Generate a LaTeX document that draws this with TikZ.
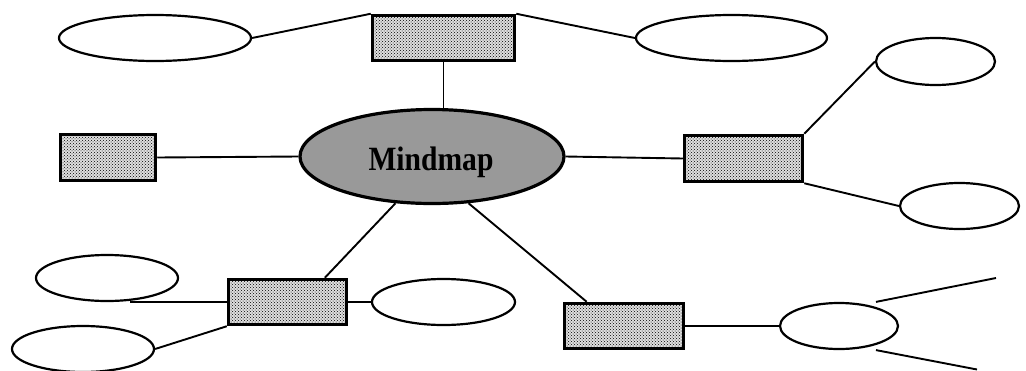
\documentclass[tikz,border=0pt]{standalone}
\usepackage{fontspec}
\setmainfont{Liberation Serif}
\usetikzlibrary{patterns,shapes.geometric}
\definecolor{centregray}{RGB}{153,153,153}
\tikzset{
  dotbox/.style={draw=black, line width=3.5pt, rectangle, inner sep=0pt,
    preaction={fill=gray!25}, pattern=crosshatch dots, pattern color=black},
  leaf/.style={draw=black, line width=2.2pt, ellipse, inner sep=0pt, fill=white},
  centre/.style={draw=black, line width=3.2pt, ellipse, inner sep=0pt, fill=centregray},
  link/.style={draw=black, line width=1.9pt},
}
\begin{document}
\begin{tikzpicture}[x=1pt,y=-1pt]
\useasboundingbox (0,0) rectangle (1026,370);
\fill[white] (0,0) rectangle (1026,370);

% central node
\node[centre, minimum width=264pt, minimum height=94pt] (c) at (432,156.5) {};
\node[anchor=base, font=\fontsize{34}{40}\selectfont\bfseries, inner sep=0pt] (ct) at (431,170) {\scalebox{0.87}[1]{Mindmap}};

% rectangles
\node[dotbox, minimum width=142pt, minimum height=45pt] (top) at (443.5,38) {};
\node[dotbox, minimum width=95pt, minimum height=46pt] (left) at (108,157.5) {};
\node[dotbox, minimum width=118pt, minimum height=46pt] (right) at (743.5,158.5) {};
\node[dotbox, minimum width=118pt, minimum height=45pt] (bl) at (287.5,302) {};
\node[dotbox, minimum width=119pt, minimum height=45pt] (br) at (624,326) {};

% leaf ellipses
\node[leaf, minimum width=192pt, minimum height=46pt] (tl) at (155,38) {};
\node[leaf, minimum width=191pt, minimum height=46pt] (tr) at (731.5,38) {};
\node[leaf, minimum width=119pt, minimum height=47pt] (rt) at (935.5,61.5) {};
\node[leaf, minimum width=119pt, minimum height=46pt] (rb) at (959.5,206) {};
\node[leaf, minimum width=142pt, minimum height=46pt] (bl1) at (107,278) {};
\node[leaf, minimum width=142pt, minimum height=46pt] (bl2) at (83,349) {};
\node[leaf, minimum width=143pt, minimum height=46pt] (bl3) at (443.5,302) {};
\node[leaf, minimum width=118pt, minimum height=46pt] (bre) at (839,326) {};

\coordinate (brup) at (996,278);
\coordinate (brdown) at (977,369.5);

% connectors
\draw[link] (top.south) -- (top.south |- c.north);
\draw[link] (tl.east) -- (top.north west);
\draw[link] (top.north east) -- (tr.west);
\draw[link] (left.east) -- (c.west);
\draw[link] (c.east) -- (right.west);
\draw[link] (right.north east) -- (rt.west);
\draw[link] (right.south east) -- (rb.west);
\draw[link] (c.-128.5) -- (bl.33);
\draw[link] (c.-52.4) -- (br.147);
\draw[link] (bl.west) -- (bl.west -| bl1.-45);
\draw[link] (bl.south west) -- (bl2.east);
\draw[link] (bl.east) -- (bl3.west);
\draw[link] (br.east) -- (bre.west);
\draw[link] ([xshift=37pt]bre.north) -- (brup);
\draw[link] ([xshift=37pt]bre.south) -- (brdown);
\end{tikzpicture}
\end{document}
